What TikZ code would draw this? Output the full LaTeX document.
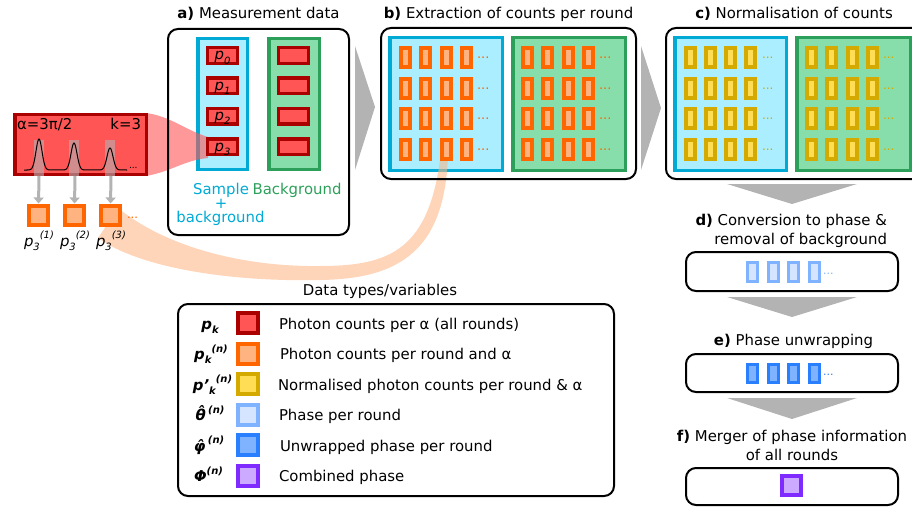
\documentclass[tikz,border=0pt]{standalone}
\usepackage{fontspec}
\setmainfont{DejaVu Sans}
\usetikzlibrary{arrows.meta}
\definecolor{redB}{HTML}{AA0000}
\definecolor{redF}{HTML}{FF5555}
\definecolor{orB}{HTML}{FF6600}
\definecolor{orF}{HTML}{FFB380}
\definecolor{yeB}{HTML}{D4AA00}
\definecolor{yeF}{HTML}{FFDD55}
\definecolor{lbB}{HTML}{80B3FF}
\definecolor{lbF}{HTML}{D5E5FF}
\definecolor{bB}{HTML}{2A7FFF}
\definecolor{bF}{HTML}{80B3FF}
\definecolor{puB}{HTML}{7F2AFF}
\definecolor{puF}{HTML}{CCAAFF}
\definecolor{cyB}{HTML}{00AAD4}
\definecolor{cyF}{HTML}{AAEEFF}
\definecolor{grB}{HTML}{2CA05A}
\definecolor{grF}{HTML}{87DEAA}
\definecolor{greyA}{HTML}{B3B3B3}
\newcommand\fs{\fontsize{14.9}{17}\selectfont}
\newcommand\mysub[1]{\raisebox{-0.28em}{\fontsize{10}{10}\selectfont #1}}
\newcommand\mysup[1]{\raisebox{0.5em}{\fontsize{10}{10}\selectfont #1}}
\begin{document}
\begin{tikzpicture}[x=1pt,y=-1pt,
  every node/.style={inner sep=0pt, outer sep=0pt, font=\fs},
  bigbox/.style={draw=black, line width=2pt, rounded corners=10pt},
  cypanel/.style={draw=cyB, fill=cyF, line width=3.5pt},
  grpanel/.style={draw=grB, fill=grF, line width=3.5pt},
  redcell/.style={draw=redB, fill=redF, line width=3.3pt, minimum width=29.7pt, minimum height=15.7pt},
  orbar/.style={draw=orB, fill=orF, line width=4pt, minimum width=9pt, minimum height=19pt},
  yebar/.style={draw=yeB, fill=yeF, line width=4pt, minimum width=9pt, minimum height=19pt},
  lbbar/.style={draw=lbB, fill=lbF, line width=3.3pt, minimum width=10pt, minimum height=18.4pt},
  bbar/.style={draw=bB, fill=bF, line width=3.3pt, minimum width=10pt, minimum height=18.4pt},
  sq/.style={line width=4pt, minimum width=19pt, minimum height=19pt},
  lsq/.style={line width=4pt, minimum width=20pt, minimum height=20pt},
  dotsty/.style={anchor=base west, font=\fontsize{13}{13}\selectfont},
  bigarrow/.style={fill=greyA},
  greyarrow/.style={draw=greyA, line width=3pt, -{Triangle[length=6pt,width=10pt]}},
  lbl/.style={anchor=base, font=\fs\bfseries\itshape},
  ltxt/.style={anchor=base west}
]
\useasboundingbox (0,0) rectangle (912,508);

% ---------- titles ----------
\node[anchor=base] (ta) at (258.5,19) {\textbf{a)} Measurement data};
\node[anchor=base] (tb) at (508.5,19) {\textbf{b)} Extraction of counts per round};
\node[anchor=base] (tc) at (794,19) {\textbf{c)} Normalisation of counts};

% ---------- box b: panels, swoosh, bars ----------
\draw[cypanel] (389.75,37.75) rectangle (502.25,170.25);
\draw[grpanel] (512.75,37.75) rectangle (625.25,170.25);
\fill[orF, opacity=0.55] (118,208) .. controls (170,250) and (250,267) .. (320,266)
   .. controls (390,266) and (430,250) .. (441,152) -- (448,152)
   .. controls (446,250) and (400,279) .. (320,280)
   .. controls (230,282) and (140,268) .. (98,238) -- cycle;
\foreach \c in {0,...,3}{
  \foreach \r in {0,...,3}{
    \node[orbar] (bl\c\r) at ({405.5+20.3*\c},{57.5+30.7*\r}) {};
    \node[orbar] (bg\c\r) at ({527.5+20.3*\c},{57.5+30.7*\r}) {};
  }}
\foreach \r in {0,...,3}{
  \node[dotsty, text=orB] (bdl\r) at (477,{58.5+30.7*\r}) {...};
  \node[dotsty, text=orB] (bdg\r) at (599,{58.5+30.7*\r}) {...};
}
\draw[bigbox] (381,28) rectangle (636,179);

% ---------- box c ----------
\draw[cypanel] (674.75,37.75) rectangle (786.25,170.25);
\draw[grpanel] (796.75,37.75) rectangle (910.25,170.25);
\foreach \c in {0,...,3}{
  \foreach \r in {0,...,3}{
    \node[yebar] (cl\c\r) at ({690.5+20.1*\c},{57.5+30.7*\r}) {};
    \node[yebar] (cg\c\r) at ({811.5+20.3*\c},{57.5+30.7*\r}) {};
  }}
\foreach \r in {0,...,3}{
  \node[dotsty, text=yeB, font=\fontsize{12}{12}\selectfont] (cdl\r) at (762,{58.5+30.7*\r}) {...};
  \node[dotsty, text=yeB, font=\fontsize{12}{12}\selectfont] (cdg\r) at (883,{58.5+30.7*\r}) {...};
}
\draw[bigbox] (666,28) rectangle (940,179);

% ---------- box a ----------
\draw[cypanel] (197.75,38.75) rectangle (247.25,169.25);
\draw[grpanel] (268.75,38.75) rectangle (319.25,169.25);
\fill[redF, opacity=0.6] (146,113) .. controls (170,116) and (185,130) .. (208,137)
   -- (208,158) .. controls (185,160) and (170,172) .. (146,176) -- cycle;
\foreach \r/\t in {0/0,1/1,2/2,3/3}{
  \node[redcell] (ps\r) at (222.5,{55.5+30.4*\r}) {};
  \node[anchor=base] (pl\r) at (222.5,{55.5+30.4*\r+4.5}) {\textit{p}\mysub{\textit{\t}}};
  \node[redcell] (pb\r) at (293.5,{55.5+30.4*\r}) {};
}
\node[anchor=base, text=cyB] (sam) at (221,194) {Sample};
\node[anchor=base, text=cyB] (plus) at (221,208.5) {+};
\node[anchor=base, text=cyB] (bgd) at (220.5,222.5) {background};
\node[anchor=base, text=grB] (bgr) at (297,194) {Background};
\draw[bigbox] (168,29) rectangle (349,235);

% ---------- left red box ----------
\draw[redB, fill=redF, line width=3.5pt] (14.75,114.75) rectangle (146.25,174.25);
\node[anchor=base west] (alpha) at (17,129) {α=3π/2};
\node[anchor=base east] (kk) at (141,129) {k=3};
\foreach \x in {39,74,110}{
  \fill[greyA, opacity=0.6] ({\x-5},140) rectangle ({\x+5},176);
}
\draw[line width=1pt, black] (24,170) -- (27,170)
  -- plot[domain=27:51, samples=40] (\x,{170-31*exp(-((\x-39)^2)/18)})
  -- plot[domain=62:86, samples=40] (\x,{170-27*exp(-((\x-74)^2)/18)})
  -- plot[domain=98:122, samples=40] (\x,{170-22*exp(-((\x-110)^2)/18)})
  -- (127,170);
\node[dotsty, font=\fontsize{9}{9}\selectfont] (rdots) at (129,168) {...};
\foreach \i/\x in {1/38.5,2/74.5,3/110.5}{
  \node[sq, draw=orB, fill=orF] (os\i) at (\x,215.5) {};
  \coordinate (st\i) at ({\x+0.5},176);
  \draw[greyarrow, shorten >=2.5pt] (st\i) -- (os\i.north);
  \node[anchor=base] (op\i) at ({\x+0.5},246) {\textit{p}\mysub{\textit{3}}\mysup{\textit{(\i)}}};
}
\node[dotsty, text=orB, font=\fontsize{11.5}{11.5}\selectfont] (odots) at (127,218) {...};

% ---------- big grey arrows ----------
\fill[bigarrow] (355,46) -- (375,107) -- (355,170) -- cycle;
\fill[bigarrow] (641,46) -- (661,108) -- (641,170) -- cycle;
\fill[bigarrow] (727,184) -- (857,184) -- (792,204) -- cycle;
\fill[bigarrow] (727,297) -- (857,297) -- (792,317) -- cycle;
\fill[bigarrow] (727,398) -- (857,398) -- (792,419) -- cycle;

% ---------- d, e, f ----------
\node[anchor=base east] (td1) at (887,225.7) {\textbf{d)} Conversion to phase \&};
\node[anchor=base east] (td2) at (887,244) {removal of background};
\draw[bigbox] (686,252) rectangle (898,291);
\foreach \c in {0,...,3}{
  \node[lbbar] (db\c) at ({752.7+20.55*\c},272) {};
  \node[bbar] (eb\c) at ({752.7+20.55*\c},373.5) {};
}
\node[dotsty, text=lbB, font=\fontsize{11}{11}\selectfont] (ddots) at (823,274) {...};
\node[anchor=base] (te) at (793.5,345) {\textbf{e)} Phase unwrapping};
\draw[bigbox] (686,354) rectangle (898,392);
\node[dotsty, text=bB, font=\fontsize{11}{11}\selectfont] (edots) at (823,375.5) {...};
\node[anchor=base] (tf1) at (792,441.7) {\textbf{f)} Merger of phase information};
\node[anchor=base] (tf2) at (792,460) {of all rounds};
\draw[bigbox] (686,468) rectangle (898,505);
\node[sq, draw=puB, fill=puF] (fsq) at (791,485.5) {};

% ---------- legend ----------
\node[anchor=base] (lt) at (380,295) {Data types/variables};
\draw[bigbox] (178,304) rectangle (614,496);
\node[lsq, draw=redB, fill=redF] (l1) at (248,323) {};
\node[lsq, draw=orB, fill=orF] (l2) at (248,353.5) {};
\node[lsq, draw=yeB, fill=yeF] (l3) at (248,384) {};
\node[lsq, draw=lbB, fill=lbF] (l4) at (248,414.5) {};
\node[lsq, draw=bB, fill=bF] (l5) at (248,445) {};
\node[lsq, draw=puB, fill=puF] (l6) at (248,475.5) {};
\node[lbl] (m1) at (210,329.3) {p\mysub{k}};
\node[lbl] (m2) at (211,359.5) {p\mysub{k}\mysup{(n)}};
\node[lbl] (m3) at (212.5,390) {p'\mysub{k}\mysup{(n)}};
\node[lbl] (m4) at (210,420.5) {θ̂\,\mysup{(n)}};
\node[lbl] (m5) at (209,451) {φ̂\,\mysup{(n)}};
\node[lbl] (m6) at (208.5,481.5) {Φ\mysup{(n)}};
\node[ltxt] (x1) at (279,329.3) {Photon counts per α (all rounds)};
\node[ltxt] (x2) at (280,359.5) {Photon counts per round and α};
\node[ltxt] (x3) at (278,390) {Normalised photon counts per round \& α};
\node[ltxt] (x4) at (279,420.5) {Phase per round};
\node[ltxt] (x5) at (280,451) {Unwrapped phase per round};
\node[ltxt] (x6) at (279,481.5) {Combined phase};
\end{tikzpicture}
\end{document}
